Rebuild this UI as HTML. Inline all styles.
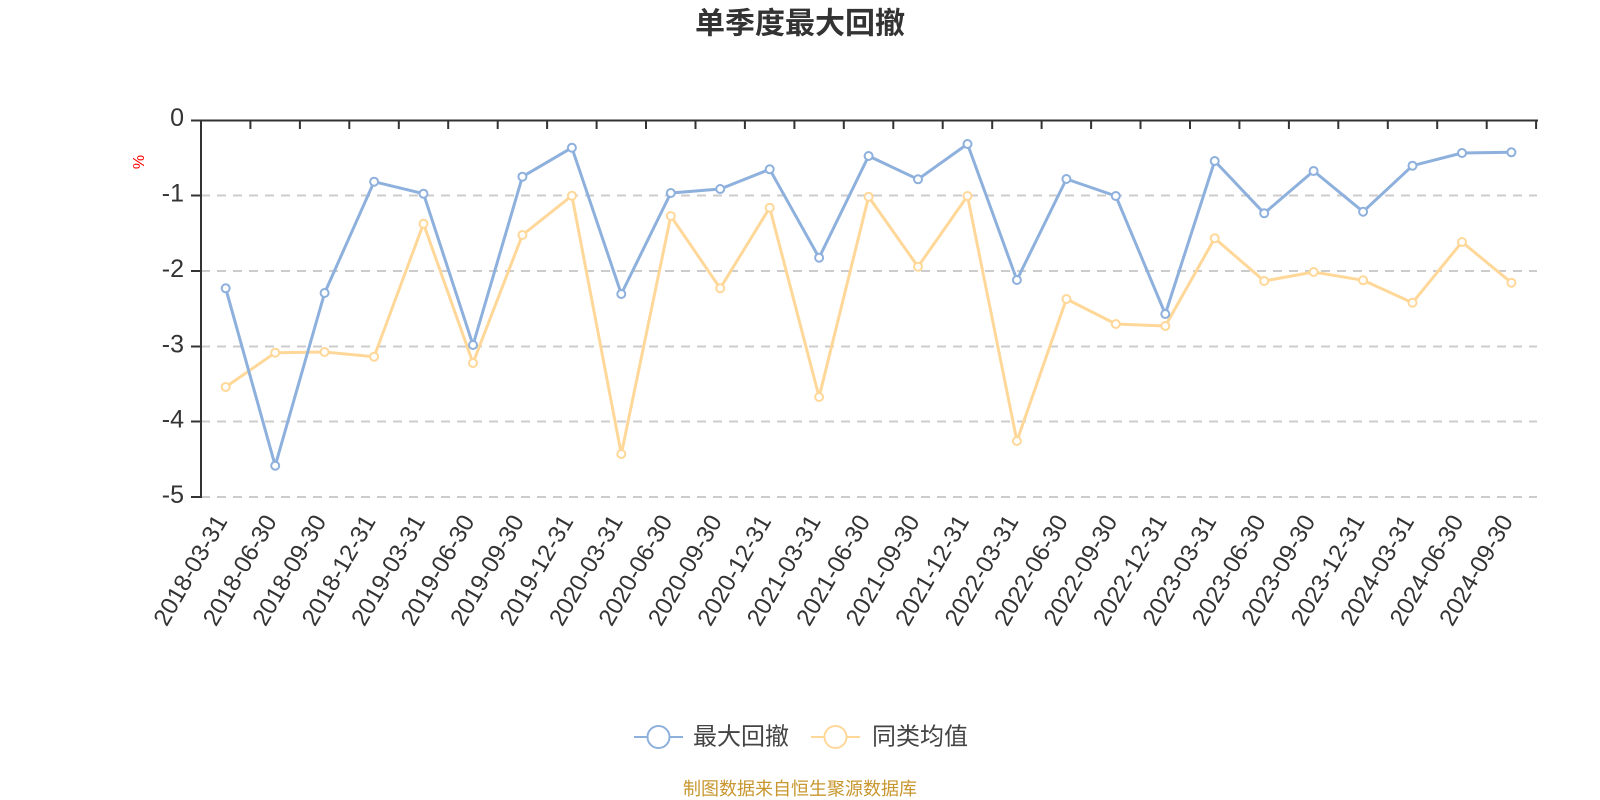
<!DOCTYPE html>
<html>
<head>
<meta charset="utf-8">
<style>
html,body{margin:0;padding:0;background:#fff;}
svg{display:block;}
text{font-family:"Liberation Sans","Noto Sans CJK SC",sans-serif;}
</style>
</head>
<body>
<svg width="1600" height="800" viewBox="0 0 1600 800" xmlns="http://www.w3.org/2000/svg">
<rect width="1600" height="800" fill="#fff"/>
<!-- title -->
<text x="800" y="24" text-anchor="middle" dominant-baseline="central" font-size="30" font-weight="bold" fill="#333">单季度最大回撤</text>

<!-- gridlines -->
<g stroke="#cccccc" stroke-width="2" stroke-dasharray="9,7">
<line x1="201" y1="195.5" x2="1537" y2="195.5"/>
<line x1="201" y1="271" x2="1537" y2="271"/>
<line x1="201" y1="346.5" x2="1537" y2="346.5"/>
<line x1="201" y1="421.5" x2="1537" y2="421.5"/>
<line x1="201" y1="497" x2="1537" y2="497"/>
</g>

<!-- y axis -->
<g stroke="#333" stroke-width="2">
<line x1="201" y1="120" x2="201" y2="498"/>
<line x1="191" y1="120.5" x2="201" y2="120.5"/>
<line x1="191" y1="195.5" x2="201" y2="195.5"/>
<line x1="191" y1="271" x2="201" y2="271"/>
<line x1="191" y1="346.5" x2="201" y2="346.5"/>
<line x1="191" y1="421.5" x2="201" y2="421.5"/>
<line x1="191" y1="497" x2="201" y2="497"/>
</g>
<g font-size="25" fill="#333" text-anchor="end">
<text x="184" y="126">0</text>
<text x="184" y="201.5">-1</text>
<text x="184" y="277">-2</text>
<text x="184" y="352.5">-3</text>
<text x="184" y="427.5">-4</text>
<text x="184" y="503">-5</text>
</g>
<text transform="translate(144,162) rotate(-90)" text-anchor="middle" font-size="16" fill="#ff0000">%</text>

<!-- x axis -->
<g stroke="#333" stroke-width="2">
<line x1="200" y1="120.5" x2="1538" y2="120.5"/>
<path d="M201.0 120v9M250.4 120v9M299.9 120v9M349.3 120v9M398.8 120v9M448.2 120v9M497.7 120v9M547.1 120v9M596.6 120v9M646.0 120v9M695.5 120v9M744.9 120v9M794.4 120v9M843.8 120v9M893.3 120v9M942.7 120v9M992.2 120v9M1041.6 120v9M1091.1 120v9M1140.5 120v9M1190.0 120v9M1239.4 120v9M1288.9 120v9M1338.3 120v9M1387.8 120v9M1437.2 120v9M1486.7 120v9M1536.1 120v9"/>
</g>
<g font-size="24" fill="#333" text-anchor="end">
<text transform="translate(228.0,521) rotate(-60)">2018-03-31</text>
<text transform="translate(277.4,521) rotate(-60)">2018-06-30</text>
<text transform="translate(326.9,521) rotate(-60)">2018-09-30</text>
<text transform="translate(376.3,521) rotate(-60)">2018-12-31</text>
<text transform="translate(425.8,521) rotate(-60)">2019-03-31</text>
<text transform="translate(475.2,521) rotate(-60)">2019-06-30</text>
<text transform="translate(524.7,521) rotate(-60)">2019-09-30</text>
<text transform="translate(574.1,521) rotate(-60)">2019-12-31</text>
<text transform="translate(623.6,521) rotate(-60)">2020-03-31</text>
<text transform="translate(673.0,521) rotate(-60)">2020-06-30</text>
<text transform="translate(722.5,521) rotate(-60)">2020-09-30</text>
<text transform="translate(771.9,521) rotate(-60)">2020-12-31</text>
<text transform="translate(821.4,521) rotate(-60)">2021-03-31</text>
<text transform="translate(870.8,521) rotate(-60)">2021-06-30</text>
<text transform="translate(920.3,521) rotate(-60)">2021-09-30</text>
<text transform="translate(969.7,521) rotate(-60)">2021-12-31</text>
<text transform="translate(1019.2,521) rotate(-60)">2022-03-31</text>
<text transform="translate(1068.6,521) rotate(-60)">2022-06-30</text>
<text transform="translate(1118.1,521) rotate(-60)">2022-09-30</text>
<text transform="translate(1167.5,521) rotate(-60)">2022-12-31</text>
<text transform="translate(1217.0,521) rotate(-60)">2023-03-31</text>
<text transform="translate(1266.4,521) rotate(-60)">2023-06-30</text>
<text transform="translate(1315.9,521) rotate(-60)">2023-09-30</text>
<text transform="translate(1365.3,521) rotate(-60)">2023-12-31</text>
<text transform="translate(1414.8,521) rotate(-60)">2024-03-31</text>
<text transform="translate(1464.2,521) rotate(-60)">2024-06-30</text>
<text transform="translate(1513.7,521) rotate(-60)">2024-09-30</text>
</g>

<!-- yellow series (同类均值) -->
<polyline fill="none" stroke="#ffd899" stroke-width="3" stroke-linejoin="round" points="225.7,387 275.2,352.7 324.6,352 374.1,356.7 423.5,223.7 473.0,363 522.4,235 571.9,195.7 621.3,454 670.8,216 720.2,288.3 769.7,207.7 819.1,397 868.6,196.7 918.0,266.7 967.5,196 1016.9,441 1066.4,299 1115.8,324 1165.3,326 1214.7,238.3 1264.2,281 1313.6,272 1363.1,280.3 1412.5,302.7 1462.0,242 1511.4,282.7"/>
<g fill="#fff" stroke="#ffd899" stroke-width="2">
<circle cx="225.7" cy="387" r="4"/><circle cx="275.2" cy="352.7" r="4"/><circle cx="324.6" cy="352" r="4"/><circle cx="374.1" cy="356.7" r="4"/><circle cx="423.5" cy="223.7" r="4"/><circle cx="473.0" cy="363" r="4"/><circle cx="522.4" cy="235" r="4"/><circle cx="571.9" cy="195.7" r="4"/><circle cx="621.3" cy="454" r="4"/><circle cx="670.8" cy="216" r="4"/><circle cx="720.2" cy="288.3" r="4"/><circle cx="769.7" cy="207.7" r="4"/><circle cx="819.1" cy="397" r="4"/><circle cx="868.6" cy="196.7" r="4"/><circle cx="918.0" cy="266.7" r="4"/><circle cx="967.5" cy="196" r="4"/><circle cx="1016.9" cy="441" r="4"/><circle cx="1066.4" cy="299" r="4"/><circle cx="1115.8" cy="324" r="4"/><circle cx="1165.3" cy="326" r="4"/><circle cx="1214.7" cy="238.3" r="4"/><circle cx="1264.2" cy="281" r="4"/><circle cx="1313.6" cy="272" r="4"/><circle cx="1363.1" cy="280.3" r="4"/><circle cx="1412.5" cy="302.7" r="4"/><circle cx="1462.0" cy="242" r="4"/><circle cx="1511.4" cy="282.7" r="4"/>
</g>

<!-- blue series (最大回撤) -->
<polyline fill="none" stroke="#8eb0dd" stroke-width="3" stroke-linejoin="round" points="225.7,288.3 275.2,465.7 324.6,293 374.1,181.7 423.5,193.7 473.0,345 522.4,176.7 571.9,147.7 621.3,294 670.8,193 720.2,189 769.7,169.3 819.1,257.7 868.6,156 918.0,179.3 967.5,144 1016.9,280 1066.4,179 1115.8,196 1165.3,314 1214.7,161 1264.2,213.3 1313.6,171 1363.1,211.7 1412.5,165.7 1462.0,153 1511.4,152.3"/>
<g fill="#fff" stroke="#8eb0dd" stroke-width="2">
<circle cx="225.7" cy="288.3" r="4"/><circle cx="275.2" cy="465.7" r="4"/><circle cx="324.6" cy="293" r="4"/><circle cx="374.1" cy="181.7" r="4"/><circle cx="423.5" cy="193.7" r="4"/><circle cx="473.0" cy="345" r="4"/><circle cx="522.4" cy="176.7" r="4"/><circle cx="571.9" cy="147.7" r="4"/><circle cx="621.3" cy="294" r="4"/><circle cx="670.8" cy="193" r="4"/><circle cx="720.2" cy="189" r="4"/><circle cx="769.7" cy="169.3" r="4"/><circle cx="819.1" cy="257.7" r="4"/><circle cx="868.6" cy="156" r="4"/><circle cx="918.0" cy="179.3" r="4"/><circle cx="967.5" cy="144" r="4"/><circle cx="1016.9" cy="280" r="4"/><circle cx="1066.4" cy="179" r="4"/><circle cx="1115.8" cy="196" r="4"/><circle cx="1165.3" cy="314" r="4"/><circle cx="1214.7" cy="161" r="4"/><circle cx="1264.2" cy="213.3" r="4"/><circle cx="1313.6" cy="171" r="4"/><circle cx="1363.1" cy="211.7" r="4"/><circle cx="1412.5" cy="165.7" r="4"/><circle cx="1462.0" cy="153" r="4"/><circle cx="1511.4" cy="152.3" r="4"/>
</g>

<!-- legend -->
<line x1="634" y1="737" x2="683" y2="737" stroke="#8eb0dd" stroke-width="2"/>
<circle cx="658.5" cy="737" r="11" fill="#fff" stroke="#8eb0dd" stroke-width="2"/>
<text x="693" y="737" dominant-baseline="central" font-size="24" fill="#444">最大回撤</text>
<line x1="811" y1="737" x2="860" y2="737" stroke="#ffd899" stroke-width="2"/>
<circle cx="835.5" cy="737" r="11" fill="#fff" stroke="#ffd899" stroke-width="2"/>
<text x="872" y="737" dominant-baseline="central" font-size="24" fill="#444">同类均值</text>

<!-- footer -->
<text x="800" y="789" text-anchor="middle" dominant-baseline="central" font-size="18" fill="#c8962e">制图数据来自恒生聚源数据库</text>
</svg>
</body>
</html>
